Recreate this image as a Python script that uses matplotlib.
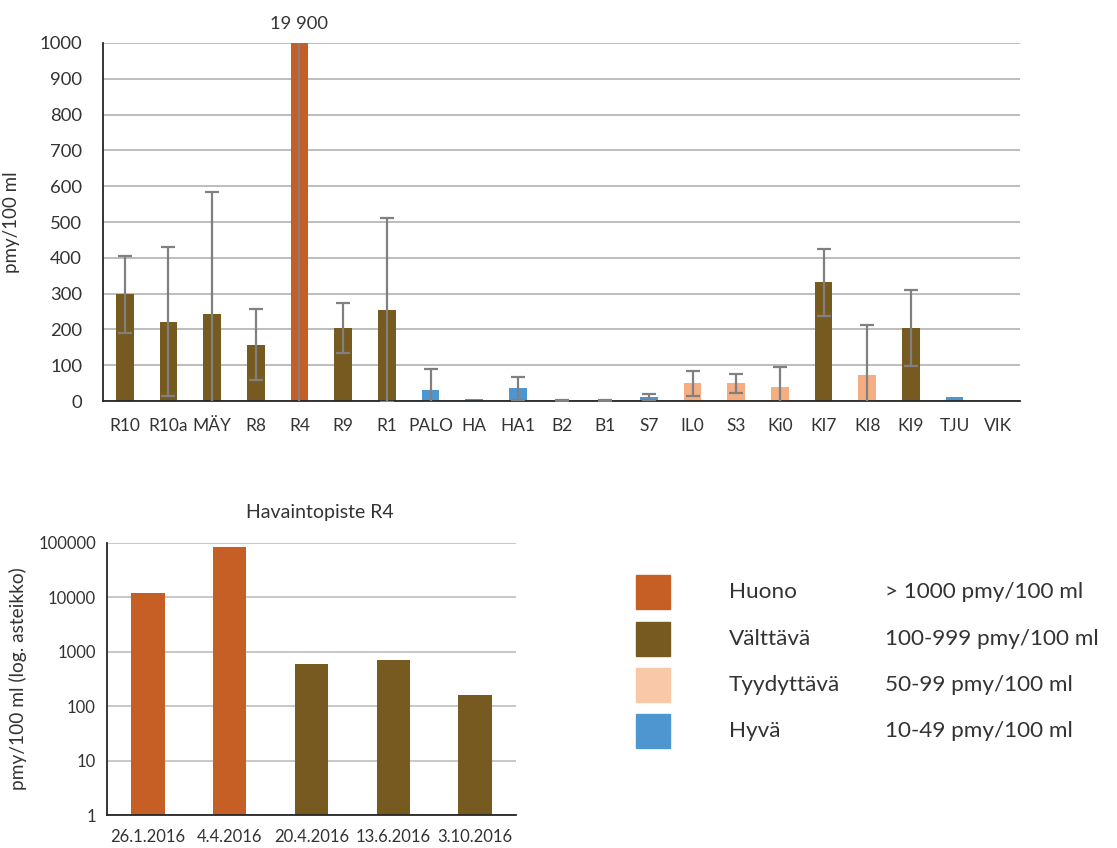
import matplotlib
matplotlib.use("Agg")
import matplotlib.pyplot as plt
import numpy as np
from matplotlib.patches import Rectangle

plt.rcParams["font.family"] = ["Lato", "DejaVu Sans"]

# Class colours
C_HUONO = "#C55F26"
C_VALTTAVA = "#765A1F"
C_TYYD_BAR = "#F4AE82"
C_TYYD_LEG = "#F8C8A8"
C_HYVA = "#4E96D0"
TEXT = "#333333"
GRID = "#ABABAB"

# Sampling points, mean counts and error-bar ends (pmy/100 ml)
sites = ["R10", "R10a", "MÄY", "R8", "R4", "R9", "R1", "PALO", "HA", "HA1",
         "B2", "B1", "S7", "IL0", "S3", "Ki0", "KI7", "KI8", "KI9", "TJU", "VIK"]
means = [300, 222, 243, 156, 19900, 204, 254, 31, 5, 37,
         1, 1, 11, 51, 50, 39, 332, 73, 204, 11, 0]
err_lo = [191, 14, -10, 58, -5000, 135, -4, -5, np.nan, 4,
          0, -1, 4, 14, 23, -5, 238, -5, 97, np.nan, np.nan]
err_hi = [405, 431, 583, 256, 40000, 274, 512, 90, np.nan, 68,
          3, 2, 21, 85, 76, 96, 426, 213, 311, np.nan, np.nan]
classes = ["V", "V", "V", "V", "H", "V", "V", "G", "G", "G",
           "G", "G", "G", "T", "T", "T", "V", "T", "V", "G", "G"]

# Observation point R4 over time
r4_dates = ["26.1.2016", "4.4.2016", "20.4.2016", "13.6.2016", "3.10.2016"]
r4_values = [12000, 85000, 600, 700, 160]
r4_classes = ["H", "H", "V", "V", "V"]

# Legend entries
legend_names = ["Huono", "Välttävä", "Tyydyttävä", "Hyvä"]
legend_ranges = ["> 1000 pmy/100 ml", "100-999 pmy/100 ml",
                 "50-99 pmy/100 ml", "10-49 pmy/100 ml"]
legend_colors = [C_HUONO, C_VALTTAVA, C_TYYD_LEG, C_HYVA]

bar_color = {"H": C_HUONO, "V": C_VALTTAVA, "T": C_TYYD_BAR, "G": C_HYVA}

fig = plt.figure(figsize=(11.17, 8.48), dpi=100)


def style_axes(ax):
    for side in ("top", "right"):
        ax.spines[side].set_visible(False)
    for side in ("left", "bottom"):
        ax.spines[side].set_color("#262626")
        ax.spines[side].set_linewidth(1.3)
    ax.tick_params(length=0, labelsize=12, colors=TEXT)
    ax.set_axisbelow(True)


# --- top: all sites -------------------------------------------------------
ax = fig.add_axes([0.0922, 0.5271, 0.8210, 0.4222])
style_axes(ax)
x = np.arange(len(sites))
means_a = np.array(means, dtype=float)
yerr = np.vstack([means_a - np.array(err_lo), np.array(err_hi) - means_a])
ax.bar(x, means_a, width=0.41, color=[bar_color[c] for c in classes], zorder=2)
ok = ~np.isnan(yerr[0])
ax.errorbar(x[ok], means_a[ok], yerr=yerr[:, ok], fmt="none", ecolor="#808080",
            elinewidth=1.6, capsize=5, capthick=1.6, zorder=3)
ax.set_xlim(-0.5, len(sites) - 0.5)
ax.set_ylim(0, 1000)
ax.set_yticks(np.arange(0, 1001, 100))
ax.yaxis.grid(True, color=GRID, linewidth=1.1)
ax.set_xticks(x)
ax.set_xticklabels(sites)
ax.tick_params(axis="x", pad=12, labelsize=12.5)
ax.tick_params(axis="y", pad=15, labelsize=13.3)
ax.set_ylabel("pmy/100 ml", fontsize=13.5, color=TEXT, labelpad=14)
ax.text(4, 1030, f"{means[4]:,}".replace(",", " "), ha="center", va="bottom",
        fontsize=13.2, color=TEXT)

# --- bottom: R4 time series (log scale) -----------------------------------
ax2 = fig.add_axes([0.0958, 0.0389, 0.3662, 0.3208])
style_axes(ax2)
x2 = np.arange(len(r4_dates))
ax2.bar(x2, r4_values, width=0.41, color=[bar_color[c] for c in r4_classes],
        zorder=2)
ax2.set_yscale("log")
ax2.set_ylim(1, 100000)
ax2.set_xlim(-0.5, len(r4_dates) - 0.5)
ax2.set_yticks([1, 10, 100, 1000, 10000, 100000])
ax2.set_yticklabels(["1", "10", "100", "1000", "10000", "100000"])
ax2.minorticks_off()
ax2.yaxis.grid(True, color="#BFBFBF", linewidth=1.2)
ax2.set_xticks(x2)
ax2.set_xticklabels(r4_dates)
ax2.tick_params(axis="x", pad=10)
ax2.tick_params(axis="y", pad=8)
ax2.set_ylabel("pmy/100 ml (log. asteikko)", fontsize=13.8, color=TEXT,
               labelpad=8)
ax2.set_title("Havaintopiste R4", fontsize=14, color=TEXT, pad=18, x=0.52)

# --- legend as free-standing swatches -------------------------------------
sw_y = [575, 622, 668, 714]
for top, name, rng, col in zip(sw_y, legend_names, legend_ranges,
                               legend_colors):
    fig.patches.append(Rectangle((636 / 1117, 1 - (top + 34) / 848),
                                 34 / 1117, 34 / 848, color=col,
                                 transform=fig.transFigure))
    yc = 1 - (top + 17) / 848
    fig.text(729 / 1117, yc, name, fontsize=16.2, color=TEXT, va="center")
    fig.text(885 / 1117, yc, rng, fontsize=16.2, color=TEXT, va="center")

fig.savefig("out.png", dpi=100, facecolor="white")
